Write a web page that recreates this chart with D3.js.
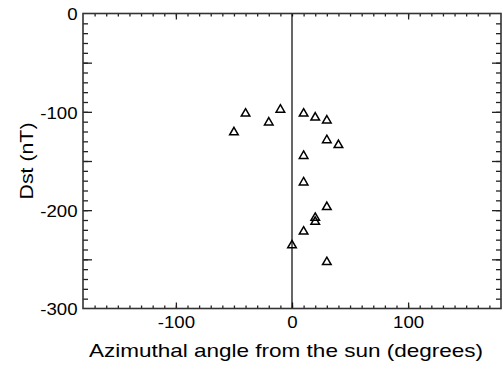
<!DOCTYPE html>
<html lang="en">
<head>
<meta charset="UTF-8">
<title>Dst vs azimuthal angle</title>
<script src="https://d3js.org/d3.v7.min.js"></script>
<style>
  body { margin: 0; background: #fff; }
  text { font-family: "Liberation Sans", Arial, sans-serif; fill: #000; }
  .tick line { stroke: #222; stroke-width: 1.3; }
</style>
</head>
<body>
<div id="chart"></div>
<script>
// azimuthal angle from the sun (degrees) and Dst (nT) for each event
const azimuth = [-50, -40, -20, -10, 10, 20, 30, 30, 40, 10, 10, 30, 20, 20, 10, 0, 30];
const dst     = [-120, -101, -110, -97, -101, -105, -108, -128, -133, -144, -171, -196, -207, -211, -221, -235, -252];

const xTicks = [-100, 0, 100];
const yTicks = [0, -100, -200, -300];

const width = 503, height = 369;
const margin = { top: 13.5, right: 2, bottom: 60.5, left: 83 };
const stretch = 1.13; // the original lettering is a little wider than Arial

const svg = d3.select("#chart").append("svg")
  .attr("width", width)
  .attr("height", height);

const x = d3.scaleLinear().domain([-180, 180]).range([margin.left, width - margin.right]);
const y = d3.scaleLinear().domain([0, -300]).range([margin.top, height - margin.bottom]);

const x0 = x.range()[0], x1 = x.range()[1];
const y0 = y.range()[0], y1 = y.range()[1];

// plain hyphen-minus like the original, not d3's unicode minus
const fmt = d => String(d);

function widen(sel) {
  sel.each(function () {
    const w = this.getComputedTextLength();
    d3.select(this).attr("textLength", w * stretch).attr("lengthAdjust", "spacingAndGlyphs");
  });
}

// minor + major ticks on all four sides, pointing inward
const xMinor = d3.range(-170, 180, 10);
const yMinor = d3.range(-10, -300, -10);
const yMajor = [-50, -100, -150, -200, -250];

svg.append("g").attr("transform", `translate(0,${y1})`)
  .call(d3.axisBottom(x).tickValues(xMinor).tickSize(-3).tickFormat(""));
svg.append("g").attr("transform", `translate(0,${y0})`)
  .call(d3.axisTop(x).tickValues(xMinor).tickSize(-3).tickFormat(""));
svg.append("g").attr("transform", `translate(0,${y0})`)
  .call(d3.axisTop(x).tickValues([-100, 100]).tickSize(-6).tickFormat(""));

const xAxis = svg.append("g").attr("transform", `translate(0,${y1})`)
  .call(d3.axisBottom(x).tickValues(xTicks).tickSize(-6).tickPadding(7.5).tickFormat(fmt));
xAxis.selectAll("text").style("font-size", "16.5px").call(widen);

svg.append("g").attr("transform", `translate(${x0},0)`)
  .call(d3.axisLeft(y).tickValues(yMinor).tickSize(-5).tickFormat(""));
svg.append("g").attr("transform", `translate(${x1},0)`)
  .call(d3.axisRight(y).tickValues(yMinor).tickSize(-5).tickFormat(""));
svg.append("g").attr("transform", `translate(${x0},0)`)
  .call(d3.axisLeft(y).tickValues(yMajor).tickSize(-9).tickFormat(""));
svg.append("g").attr("transform", `translate(${x1},0)`)
  .call(d3.axisRight(y).tickValues(yMajor).tickSize(-9).tickFormat(""));

const yAxis = svg.append("g").attr("transform", `translate(${x0},0)`)
  .call(d3.axisLeft(y).tickValues(yTicks).tickSize(0).tickPadding(5.5).tickFormat(fmt));
yAxis.selectAll("text").style("font-size", "16.5px").attr("dy", "0.39em").call(widen);

svg.selectAll(".domain").remove();

// zero-azimuth reference line
svg.append("line")
  .attr("x1", x(0)).attr("x2", x(0))
  .attr("y1", y0).attr("y2", y1)
  .attr("stroke", "#000").attr("stroke-width", 1.2);

// frame
svg.append("rect")
  .attr("x", x0).attr("y", y0)
  .attr("width", x1 - x0).attr("height", y1 - y0)
  .attr("fill", "none").attr("stroke", "#333").attr("stroke-width", 1.6);

// open triangles
const tri = d3.symbol().type(d3.symbolTriangle).size(32);
svg.append("g")
  .selectAll("path")
  .data(azimuth.map((a, i) => [a, dst[i]]))
  .join("path")
  .attr("d", tri)
  .attr("transform", d => `translate(${x(d[0])},${y(d[1]) + 0.8})`)
  .attr("fill", "none")
  .attr("stroke", "#000")
  .attr("stroke-width", 1.5);

// axis titles
svg.append("text")
  .attr("x", 286).attr("y", 356.5)
  .attr("text-anchor", "middle")
  .style("font-size", "18.5px")
  .attr("textLength", 394).attr("lengthAdjust", "spacingAndGlyphs")
  .text("Azimuthal angle from the sun (degrees)");

svg.append("text")
  .attr("transform", `translate(32.5,${(y0 + y1) / 2}) rotate(-90)`)
  .attr("text-anchor", "middle")
  .style("font-size", "18.5px")
  .attr("textLength", 77).attr("lengthAdjust", "spacingAndGlyphs")
  .text("Dst (nT)");
</script>
</body>
</html>
